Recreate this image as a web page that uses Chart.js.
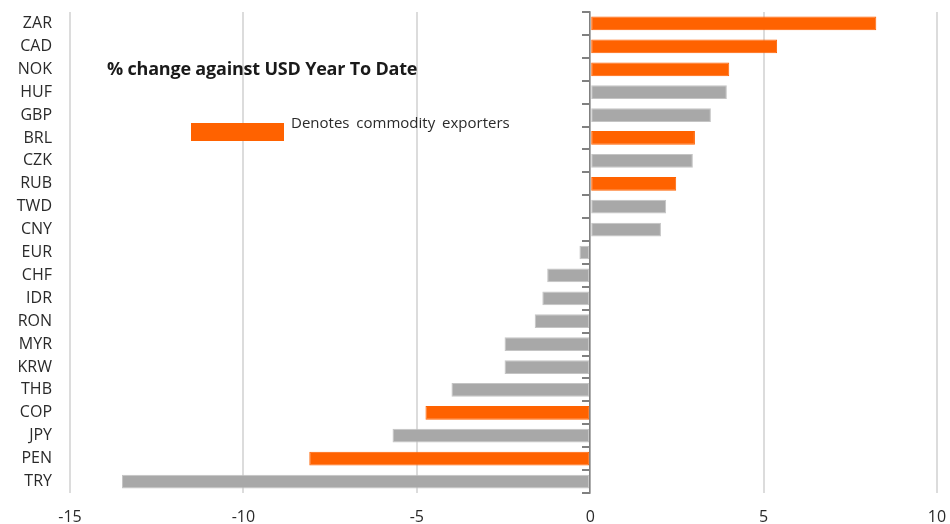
<!DOCTYPE html>
<html>
<head>
<meta charset="utf-8">
<script src="https://cdn.jsdelivr.net/npm/chart.js@4.4.1/dist/chart.umd.min.js"></script>
<style>
  html, body { margin: 0; padding: 0; background: #ffffff; }
  #wrap { position: relative; width: 950px; height: 524px; }
  #c { position: absolute; left: 0; top: 0; }
  .title { position: absolute; left: 107px; top: 56px; font: bold 18px "Open Sans", sans-serif; color: #1a1a1a; line-height: 24px; white-space: nowrap; letter-spacing: -0.2px; }
  .legbox { position: absolute; left: 191px; top: 123px; width: 93px; height: 18px; background: #FF6200; }
  .legtxt { position: absolute; left: 291px; top: 112px; font: 15px "Open Sans", sans-serif; color: #2a2a2a; line-height: 20px; white-space: nowrap; word-spacing: 3px; }
</style>
</head>
<body>
<div id="wrap">
  <canvas id="c" width="950" height="524"></canvas>
  <div class="title">% change against USD Year To Date</div>
  <div class="legbox"></div>
  <div class="legtxt">Denotes commodity exporters</div>
</div>
<script>
const categories = ['ZAR','CAD','NOK','HUF','GBP','BRL','CZK','RUB','TWD','CNY','EUR','CHF','IDR','RON','MYR','KRW','THB','COP','JPY','PEN','TRY'];
const values = [8.25, 5.39, 4.01, 3.94, 3.48, 3.02, 2.96, 2.48, 2.19, 2.04, -0.31, -1.24, -1.38, -1.60, -2.47, -2.47, -4.00, -4.75, -5.70, -8.10, -13.50];
const commodityExporter = [1,1,1,0,0,1,0,1,0,0,0,0,0,0,0,0,0,1,0,1,0];
const xTicks = [-15, -10, -5, 0, 5, 10];

const ORANGE = '#FF6200';
const GREY = '#A8A8A8';
const labelFont = { family: '"Open Sans", sans-serif', size: 16 };

new Chart(document.getElementById('c'), {
  type: 'bar',
  data: {
    labels: categories,
    datasets: [{
      data: values,
      yAxisID: 'y',
      backgroundColor: commodityExporter.map(f => f ? ORANGE : GREY),
      borderColor: commodityExporter.map(f => f ? ORANGE : '#C4C4C4'),
      borderWidth: 1,
      borderSkipped: false,
      categoryPercentage: 1,
      barPercentage: 0.6
    }]
  },
  options: {
    indexAxis: 'y',
    responsive: false,
    animation: false,
    layout: { padding: { top: 12, right: 13, left: 0, bottom: 0 } },
    plugins: { legend: { display: false }, tooltip: { enabled: false } },
    scales: {
      x: {
        type: 'linear',
        min: -15, max: 10,
        afterBuildTicks: s => { s.ticks = xTicks.map(v => ({ value: v })); },
        ticks: { font: labelFont, color: '#2a2a2a', padding: 15 },
        grid: { color: '#dcdcdc', lineWidth: 2, drawTicks: false },
        border: { display: false },
        afterFit: s => { s.height = 31; s.paddingRight = 0; s.paddingLeft = 0; }
      },
      y: {
        type: 'category',
        position: 'left',
        offset: true,
        grid: { display: false, drawTicks: false },
        border: { display: false },
        ticks: { font: labelFont, color: '#2a2a2a', padding: 18, autoSkip: false },
        afterFit: s => { s.width = 70; s.paddingTop = 0; s.paddingBottom = 0; }
      },
      y0: {
        type: 'category',
        position: { x: 0 },
        offset: true,
        z: 1,
        grid: { offset: true, drawOnChartArea: false, drawTicks: true, tickLength: 7, color: '#808080', lineWidth: 2 },
        border: { display: true, color: '#808080', width: 1.5 },
        ticks: { display: false, autoSkip: false },
        afterFit: s => { s.paddingTop = 0; s.paddingBottom = 0; }
      }
    }
  }
});
</script>
</body>
</html>
